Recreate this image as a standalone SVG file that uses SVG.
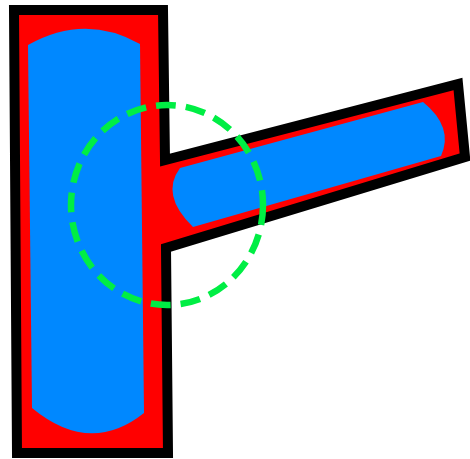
<svg xmlns="http://www.w3.org/2000/svg" width="470" height="459" viewBox="0 0 470 459">
<style>
.frame{fill:#ff0000;stroke:#000000;stroke-width:10;stroke-linejoin:miter}
.fill{fill:#0088ff;stroke:none}
.ring{fill:none;stroke:#00ee44;stroke-width:6.5;stroke-dasharray:20 10}
</style>
<rect width="470" height="459" fill="#ffffff"/>
<g id="frame">
<path class="frame" d="M14,10 L163,10 L165,160 L458,84 L465,157 L166,248 L168,453 L17,453 Z"/>
</g>
<g id="vertical-bar">
<path class="fill" d="M28,45 Q85,13 140,44 L144,413 Q90,456 32,408 Z"/>
</g>
<g id="arm">
<path class="fill" d="M180,168 L423,102 Q454,127 441,156 L193,227 Q160,195 180,168 Z"/>
</g>
<g id="ring">
<ellipse class="ring" cx="167" cy="205" rx="96" ry="100"/>
</g>
</svg>
